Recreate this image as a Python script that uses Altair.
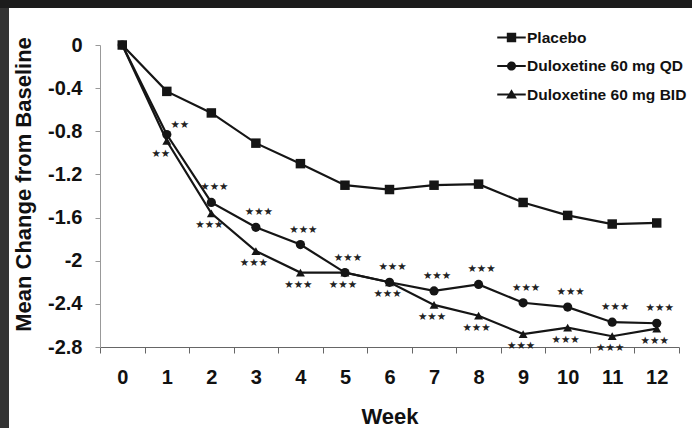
import altair as alt
import pandas as pd

weeks = list(range(13))
series_names = ["Placebo", "Duloxetine 60 mg QD", "Duloxetine 60 mg BID"]
placebo = [0, -0.43, -0.63, -0.91, -1.10, -1.30, -1.34, -1.30, -1.29, -1.46, -1.58, -1.66, -1.65]
qd = [0, -0.83, -1.46, -1.69, -1.85, -2.11, -2.20, -2.28, -2.22, -2.39, -2.43, -2.57, -2.58]
bid = [0, -0.89, -1.56, -1.91, -2.11, -2.11, -2.20, -2.41, -2.51, -2.68, -2.62, -2.70, -2.63]

sig_weeks = list(range(1, 13))
qd_sig = ["★★"] + ["★★★"] * 11
bid_sig = ["★★"] + ["★★★"] * 11

y_ticks = [0, -0.4, -0.8, -1.2, -1.6, -2.0, -2.4, -2.8]

rows = []
for name, vals in zip(series_names, [placebo, qd, bid]):
    for w, v in zip(weeks, vals):
        rows.append({"week": w, "value": v, "series": name})
df = pd.DataFrame(rows)

ann_qd = pd.DataFrame({"week": sig_weeks, "value": qd[1:], "label": qd_sig})
ann_bid = pd.DataFrame({"week": sig_weeks, "value": bid[1:], "label": bid_sig})

FONT = "Liberation Sans"
INK = "#151515"

x_enc = alt.X(
    "week:O",
    scale=alt.Scale(domain=weeks, paddingInner=0, paddingOuter=0),
    axis=alt.Axis(
        title="Week", labelAngle=0, tickBand="extent", tickSize=6, labelPadding=14,
        domainColor="#666", tickColor="#666", titleFontSize=22, titleY=76,
        titleBaseline="alphabetic",
    ),
)
y_enc = alt.Y(
    "value:Q",
    scale=alt.Scale(domain=[-2.8, 0], nice=False, zero=False),
    axis=alt.Axis(
        title="Mean Change from Baseline", values=y_ticks, tickSize=5, labelPadding=13,
        grid=False, domainColor="#999", tickColor="#999",
        labelExpr="datum.value == 0 ? '0' : '-' + format(-datum.value, '.1~f')",
        titleFontSize=22, titleX=-77, titleY=139, titleAngle=-90,
        titleAlign="center", titleBaseline="middle",
    ),
)

one = pd.DataFrame({"a": [0]})
frame_top = alt.Chart(one).mark_rect(color="#1c1c1c").encode(
    x=alt.value(-100), x2=alt.value(592), y=alt.value(-45), y2=alt.value(-37))
frame_left = alt.Chart(one).mark_rect(color="#343434").encode(
    x=alt.value(-100), x2=alt.value(-91), y=alt.value(-37), y2=alt.value(383))

lines = alt.Chart(df).mark_line(color=INK, strokeWidth=2.2).encode(
    x=x_enc, y=y_enc, detail="series:N")

points = alt.Chart(df).mark_point(filled=True, color=INK, opacity=1).encode(
    x=x_enc, y=y_enc,
    shape=alt.Shape("series:N", scale=alt.Scale(domain=series_names,
                    range=["square", "circle", "triangle-up"]), legend=None),
    size=alt.Size("series:N", scale=alt.Scale(domain=series_names, range=[90, 80, 110]),
                  legend=None),
)

# legend glyphs: a short line (thin filled bar) with the series marker on it
bar = "M-1,-0.07H1V0.07H-1Z"
legend_paths = [
    bar + "M-0.33,-0.33H0.33V0.33H-0.33Z",
    bar + "M0.32,0A0.32,0.32,0,1,1,-0.32,0A0.32,0.32,0,1,1,0.32,0Z",
    bar + "M0,-0.36L0.38,0.28H-0.38Z",
]
legend_layer = alt.Chart(df).transform_filter("datum.week < 0").mark_point(
    filled=True, color=INK, size=812, opacity=1).encode(
    shape=alt.Shape("series:N", scale=alt.Scale(domain=series_names, range=legend_paths),
                    legend=alt.Legend(
                        title=None, orient="none", legendX=397, legendY=-22, padding=0,
                        labelFont=FONT, labelFontSize=15.5, labelFontWeight="bold",
                        labelColor="#111", labelOffset=1, rowPadding=5.5,
                        symbolSize=812, symbolStrokeWidth=0, symbolFillColor=INK,
                        symbolOpacity=1, labelLimit=300,
                    )),
)

def stars(data, cond, dx, dy):
    return alt.Chart(data).transform_filter(cond).mark_text(
        font="DejaVu Sans", fontSize=10.5, color="#222", dx=dx, dy=dy, baseline="middle").encode(
        x=alt.X("week:O"), y=alt.Y("value:Q"), text="label:N")

chart = alt.layer(
    frame_top, frame_left, lines, points, legend_layer,
    stars(ann_qd, "datum.week >= 2", 3, -15),
    stars(ann_qd, "datum.week == 1", 13, -10),
    stars(ann_bid, "datum.week >= 2", -2, 12),
    stars(ann_bid, "datum.week == 1", -6, 13),
).resolve_scale(shape="independent", size="independent").properties(
    width=579, height=302,
    padding={"left": 100, "top": 45, "right": 13, "bottom": 81},
    autosize=alt.AutoSizeParams(type="none"),
    background="white",
).configure_view(stroke=None).configure_axis(
    labelFont=FONT, labelFontSize=20, labelFontWeight="bold", labelColor="#111",
    titleFont=FONT, titleFontWeight="bold", titleColor="#111", grid=False,
)

chart.save("out.html", embed_options={"renderer": "svg", "actions": False})
